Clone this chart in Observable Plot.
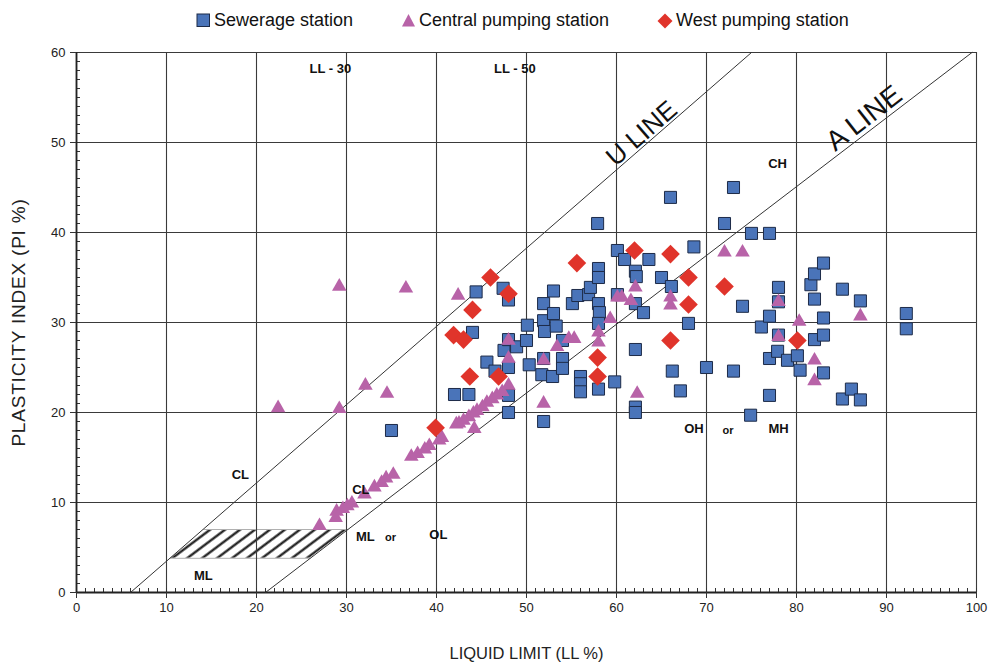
<!DOCTYPE html>
<html>
<head>
<meta charset="utf-8">
<script src="https://cdn.jsdelivr.net/npm/d3@7"></script>
<script src="https://cdn.jsdelivr.net/npm/@observablehq/plot@0.6"></script>
<style>
  body { margin: 0; background: #fff; font-family: "Liberation Sans", Arial, sans-serif; }
  #legend { position: relative; width: 991px; height: 40px; font-size: 18px; color: #111; }
  .item { position: absolute; top: 10px; display: flex; align-items: center; white-space: nowrap; }
  .item svg { margin-right: 3px; }
</style>
</head>
<body>
<div id="legend"></div>
<div id="chart"></div>
<script>
// ---------------- data ----------------
const seriesNames = ["Sewerage station", "Central pumping station", "West pumping station"];
const seriesColors = ["#4a74b9", "#b863a8", "#e0342b"];

const sewerageLL = [35.0,42.0,43.6,44.0,44.4,47.4,48.0,45.6,46.5,47.5,48.0,48.9,48.0,48.0,48.0,50.1,50.0,50.3,51.9,51.9,52.0,51.7,51.9,51.9,52.9,53.0,53.0,53.3,54.0,54.0,54.0,55.1,55.7,56.0,56.0,56.0,56.9,57.1,57.9,58.0,58.0,58.0,58.1,58.0,58.0,59.8,60.1,60.1,60.9,62.1,62.2,62.1,62.1,62.1,62.1,63.0,63.6,65.0,66.0,66.1,66.2,67.1,68.0,68.6,70.0,72.0,73.0,73.0,74.0,74.9,75.0,76.1,77.0,77.0,77.0,77.0,77.9,78.0,78.0,78.0,79.0,80.1,80.4,81.6,82.0,82.0,82.0,83.0,83.0,83.0,83.0,85.1,85.1,86.1,87.1,87.1,92.2,92.2];
const seweragePI = [18.0,22.0,22.0,28.9,33.4,33.8,32.5,25.6,24.6,26.9,28.1,27.3,25.0,21.9,20.0,29.7,28.0,25.3,32.1,30.2,29.0,24.2,26.0,19.0,24.0,33.5,31.0,29.6,28.0,26.0,24.9,32.1,33.0,24.0,23.2,22.3,33.1,33.9,41.0,36.0,35.0,32.1,31.1,29.9,22.6,23.4,38.0,33.1,37.0,35.7,35.1,32.1,27.0,20.6,20.0,31.1,37.0,35.0,43.9,34.0,24.6,22.4,29.9,38.4,25.0,41.0,45.0,24.6,31.8,19.7,39.9,29.5,39.9,30.7,26.0,21.9,26.8,33.9,32.3,28.6,25.8,26.3,24.7,34.2,35.4,32.6,28.1,36.6,30.5,28.6,24.4,33.7,21.5,22.6,32.4,21.4,31.0,29.3];

const centralLL = [22.4,29.2,29.2,36.6,32.1,34.5,27.0,28.8,28.9,29.6,30.1,30.6,32.0,33.1,33.9,34.4,35.2,37.2,37.9,38.7,39.2,40.3,40.6,42.2,42.5,43.0,43.6,44.1,44.2,44.5,45.1,45.6,46.2,46.7,47.3,48.0,48.0,48.0,42.4,51.9,51.9,53.4,54.7,55.3,58.0,58.0,59.3,60.1,60.6,61.6,62.1,62.3,66.0,66.0,72.0,74.0,78.0,78.0,80.3,82.0,82.0,87.1];
const centralPI = [20.5,34.0,20.4,33.8,23.0,22.1,7.4,8.3,9.0,9.3,9.6,9.9,10.9,11.7,12.2,12.7,13.1,15.1,15.4,15.9,16.3,16.9,17.2,18.7,18.8,19.1,19.5,19.9,18.2,20.2,20.6,21.1,21.5,21.9,22.3,23.0,26.0,28.0,33.0,25.8,21.0,27.3,28.2,28.2,28.9,27.8,30.4,32.8,32.8,32.4,33.9,22.1,32.8,31.9,37.8,37.8,32.3,28.4,30.1,25.8,23.5,30.7];

const westLL = [39.9,41.9,43.0,44.0,43.7,46.0,46.9,48.0,55.6,57.9,57.9,62.0,66.0,66.0,68.0,68.0,72.0,80.1];
const westPI = [18.3,28.6,28.1,31.4,24.0,35.0,24.0,33.2,36.6,26.1,24.0,38.0,37.6,28.0,35.0,32.0,34.0,28.0];

// reference lines (end points) and the hatched ML-CL zone
const uLineLL = [6, 75.0], uLinePI = [0, 60];
const aLineLL = [21, 99.5], aLinePI = [0, 60];
const hatchPI = [3.8, 7.0], hatchLeftLL = [10.4, 14.1], hatchRightLL = [26.0, 30.2];

// zone labels
const zoneText = ["LL - 30", "LL - 50", "CH", "OH", "MH", "CL", "CL", "ML", "OL", "ML"];
const zoneLL   = [28.2, 48.7, 77.9, 68.6, 78.0, 18.2, 31.6, 32.1, 40.2, 14.1];
const zonePI   = [58.2, 58.2, 47.6, 18.2, 18.2, 13.1, 11.4, 6.2, 6.4, 1.8];
const orLL = [72.4, 34.9], orPI = [18.0, 6.1];
const lineText = ["U LINE", "A LINE"], lineTextLL = [62.8, 87.5], lineTextPI = [51.0, 52.7];

const xTicks = d3.range(0, 101, 10);
const yTicks = d3.range(0, 61, 10);
const xMinor = d3.range(0, 101, 1);
const yMinor = d3.range(0, 61, 1);
const xTitle = "LIQUID LIMIT (LL %)";
const yTitle = "PLASTICITY INDEX (PI %)";

// ---------------- build tables ----------------
const zip = (xs, ys) => xs.map((x, i) => ({ll: x, pi: ys[i]}));
const sewerage = zip(sewerageLL, seweragePI);
const central = zip(centralLL, centralPI);
const west = zip(westLL, westPI);
const uLine = zip(uLineLL, uLinePI);
const aLine = zip(aLineLL, aLinePI);
const hatch = hatchPI.map((p, i) => ({pi: p, l: hatchLeftLL[i], r: hatchRightLL[i]}));
const zones = zoneText.map((t, i) => ({t, ll: zoneLL[i], pi: zonePI[i]}));
const ors = orLL.map((x, i) => ({ll: x, pi: orPI[i]}));
const lineLabels = lineText.map((t, i) => ({t, ll: lineTextLL[i], pi: lineTextPI[i]}));

// ---------------- legend ----------------
const legend = document.getElementById("legend");
const icons = [
  `<svg width="15" height="15"><rect x="1" y="1" width="12.5" height="12.5" fill="${seriesColors[0]}" stroke="#1d2b48" stroke-width="1"/></svg>`,
  `<svg width="15" height="15"><path d="M7.5,1 L14,13.5 L1,13.5 Z" fill="${seriesColors[1]}"/></svg>`,
  `<svg width="16" height="16"><path d="M8,0.5 L15.5,8 L8,15.5 L0.5,8 Z" fill="${seriesColors[2]}"/></svg>`
];
const legendLeft = [196, 401, 657];
seriesNames.forEach((n, i) => {
  const d = document.createElement("div");
  d.className = "item";
  d.style.left = legendLeft[i] + "px";
  d.innerHTML = icons[i] + `<span>${n}</span>`;
  legend.appendChild(d);
});

// ---------------- chart ----------------
const W = 991, H = 623;
const mL = 76, mR = 15, mT = 12, mB = 71;
const plotW = W - mL - mR, plotH = H - mT - mB;

const chart = Plot.plot({
  width: W, height: H,
  marginLeft: mL, marginRight: mR, marginTop: mT, marginBottom: mB,
  x: {domain: [0, 100]},
  y: {domain: [0, 60]},
  style: {fontFamily: "'Liberation Sans', Arial, sans-serif", fontSize: "13px", color: "#222", background: "#fff", overflow: "visible"},
  marks: [
    Plot.areaX(hatch, {y: "pi", x1: "l", x2: "r", fill: "url(#hatch)"}),
    Plot.link(hatch, {x1: "l", x2: "r", y1: "pi", y2: "pi", stroke: "#b0b0b0", strokeWidth: 1}),
    Plot.ruleX(xTicks, {stroke: "#3a3a3a", strokeWidth: 1.1}),
    Plot.ruleY(yTicks, {stroke: "#3a3a3a", strokeWidth: 1.1}),
    Plot.tickX(xMinor, {x: d => d, insetTop: plotH - 4, stroke: "#333"}),
    Plot.tickY(yMinor, {y: d => d, insetRight: plotW - 4, stroke: "#333"}),
    Plot.ruleX([0], {stroke: "#222", strokeWidth: 1.8}),
    Plot.ruleY([0], {stroke: "#222", strokeWidth: 1.8}),
    Plot.axisX(xTicks, {tickSize: 6, tickPadding: 4, label: null, stroke: "#333"}),
    Plot.axisY(yTicks, {tickSize: 6, tickPadding: 5, label: null, stroke: "#333"}),
    Plot.line(uLine, {x: "ll", y: "pi", stroke: "#333", strokeWidth: 1}),
    Plot.line(aLine, {x: "ll", y: "pi", stroke: "#333", strokeWidth: 1}),
    Plot.dot(sewerage, {x: "ll", y: "pi", symbol: "square", r: 6.8, fill: seriesColors[0], stroke: "#1d2b48", strokeWidth: 1}),
    Plot.dot(central, {x: "ll", y: "pi", symbol: "triangle", r: 5.4, fill: seriesColors[1], stroke: "none"}),
    Plot.dot(west, {x: "ll", y: "pi", symbol: "diamond2", r: 8.4, fill: seriesColors[2], stroke: "none"}),
    Plot.text(zones, {x: "ll", y: "pi", text: "t", fontWeight: "bold", fontSize: 13, fill: "#111"}),
    Plot.text(ors, {x: "ll", y: "pi", text: () => "or", fontWeight: "bold", fontSize: 11, fill: "#111"}),
    Plot.text(lineLabels.slice(0, 1), {x: "ll", y: "pi", text: "t", rotate: -41, fontSize: 26, fill: "#111"}),
    Plot.text(lineLabels.slice(1), {x: "ll", y: "pi", text: "t", rotate: -38, fontSize: 28, fill: "#111"}),
    Plot.text([xTitle], {frameAnchor: "bottom", dy: 66, text: d => d, fontSize: 16.5, fill: "#222"}),
    Plot.text([yTitle], {frameAnchor: "left", textAnchor: "middle", dx: -58, rotate: -90, text: d => d, fontSize: 19, fill: "#222"})
  ]
});

// hatch pattern definition
const defs = d3.select(chart).insert("defs", ":first-child");
const pat = defs.append("pattern")
  .attr("id", "hatch")
  .attr("patternUnits", "userSpaceOnUse")
  .attr("width", 9).attr("height", 9)
  .attr("patternTransform", "rotate(-37)");
pat.append("rect").attr("width", 9).attr("height", 9).attr("fill", "#fff");
pat.append("line").attr("x1", 0).attr("x2", 9).attr("y1", 4.5).attr("y2", 4.5)
  .attr("stroke", "#111").attr("stroke-width", 2.2);

// slightly spread the vertical axis title like the reference
d3.select(chart).selectAll("text").filter(function() { return this.textContent === yTitle; })
  .attr("letter-spacing", "0.8px");

document.getElementById("chart").appendChild(chart);
</script>
</body>
</html>
